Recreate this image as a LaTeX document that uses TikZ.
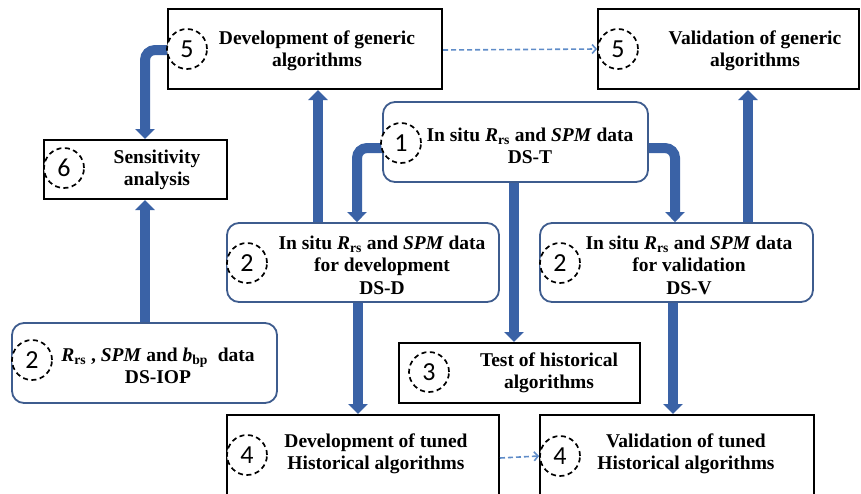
\documentclass[tikz,border=0pt]{standalone}
\usepackage{fontspec}
\setmainfont{Liberation Serif}
\newfontfamily\numfont{Carlito}
\usetikzlibrary{arrows.meta,backgrounds}

\definecolor{flowblue}{RGB}{58,98,166}
\definecolor{edgeblue}{RGB}{62,92,142}
\definecolor{dashblue}{RGB}{95,140,200}

\tikzset{
  sqbox/.style={draw=black, line width=2pt, fill=white, inner sep=0pt},
  rbox/.style={draw=edgeblue, line width=1.8pt, rounded corners=12pt, fill=white, inner sep=0pt},
  num/.style={circle, draw=black, dash pattern=on 5pt off 3.5pt, line width=1.7pt,
    minimum size=40pt, inner sep=0pt, fill=white, font=\numfont\fontsize{26}{26}\selectfont},
  boxtext/.style={align=center, inner sep=0pt, font=\fontsize{19.5}{22.5}\selectfont\bfseries},
  flow/.style={draw=flowblue, line width=10pt, -{Triangle[width=19pt,length=10pt]}},
  dflow/.style={draw=dashblue, line width=1.6pt, dash pattern=on 5pt off 3pt,
    -{Straight Barb[length=4pt,width=9pt]}},
}

\begin{document}
\begin{tikzpicture}[x=1pt,y=-1pt]
\useasboundingbox (0,0) rectangle (861,493);
\clip (0,0) rectangle (861,493);

% boxes
\node[sqbox, minimum width=274pt, minimum height=80pt] (devgen) at (305,49) {};
\node[sqbox, minimum width=261pt, minimum height=80pt] (valgen) at (728.5,49) {};
\node[sqbox, minimum width=183pt, minimum height=59pt] (sens) at (135.5,169.5) {};
\node[rbox, minimum width=265pt, minimum height=80pt] (dst) at (515.5,142) {};
\node[rbox, minimum width=272pt, minimum height=79pt] (dsd) at (363,262.5) {};
\node[rbox, minimum width=273pt, minimum height=79pt] (dsv) at (676.5,262.5) {};
\node[rbox, minimum width=265pt, minimum height=80pt] (iop) at (144.5,363) {};
\node[sqbox, minimum width=241pt, minimum height=60pt] (test) at (519.5,373) {};
\node[sqbox, minimum width=272pt, minimum height=92pt] (devtun) at (363,461) {};
\node[sqbox, minimum width=274pt, minimum height=92pt] (valtun) at (677,461) {};

% box texts
\node[boxtext] (devgen-t) at (317,51) {Development of generic\\algorithms};
\node[boxtext] (valgen-t) at (755,51) {Validation of generic\\algorithms};
\node[boxtext] (sens-t) at (157,170) {Sensitivity\\analysis};
\node[boxtext] (dst-t) at (530,146) {In situ \textit{R}\textsubscript{rs} and \textit{SPM} data\\DS-T};
\node[boxtext] (dsd-t) at (382,265) {In situ \textit{R}\textsubscript{rs} and \textit{SPM} data\\for development\\DS-D};
\node[boxtext] (dsv-t) at (689,265) {In situ \textit{R}\textsubscript{rs} and \textit{SPM} data\\for validation\\DS-V};
\node[boxtext] (iop-t) at (158,366) {\textit{R}\textsubscript{rs} , \textit{SPM} and \textit{b}\textsubscript{bp}~ data\\DS-IOP};
\node[boxtext] (test-t) at (549,373) {Test of historical\\algorithms};
\node[boxtext] (devtun-t) at (376,454) {Development of tuned\\Historical algorithms};
\node[boxtext] (valtun-t) at (686,454) {Validation of tuned\\Historical algorithms};

% step numbers
\node[num] (n5a) at (187,49) {5};
\node[num] (n5b) at (618,49) {5};
\node[num] (n6) at (64,168) {6};
\node[num] (n1) at (401,143) {1};
\node[num] (n2d) at (247,263) {2};
\node[num] (n2v) at (560,263) {2};
\node[num] (n2i) at (32,360) {2};
\node[num] (n3) at (429,372) {3};
\node[num] (n4a) at (247,455) {4};
\node[num] (n4b) at (560,456) {4};

% guide coordinates for connector positions
\coordinate (x145) at (145,0);
\coordinate (x318) at (318,0);
\coordinate (x357) at (357,0);
\coordinate (x358) at (358,0);
\coordinate (x514) at (514,0);
\coordinate (x673) at (673,0);
\coordinate (x675) at (675,0);
\coordinate (x748) at (748,0);
\coordinate (y50) at (0,50);
\coordinate (y148) at (0,148);
\coordinate (y458) at (0,458);

\begin{scope}[on background layer]
  \draw[flow, rounded corners=10pt] (devgen.west |- y50) -| (x145 |- sens.north);
  \draw[flow] (x145 |- iop.north) -- (x145 |- sens.south);
  \draw[flow] (x318 |- dsd.north) -- (x318 |- devgen.south);
  \draw[flow, rounded corners=10pt] (dst.west |- y148) -| (x357 |- dsd.north);
  \draw[flow, rounded corners=10pt] (dst.east |- y148) -| (x675 |- dsv.north);
  \draw[flow] (x748 |- dsv.north) -- (x748 |- valgen.south);
  \draw[flow] (x514 |- dst.south) -- (x514 |- test.north);
  \draw[flow] (x358 |- dsd.south) -- (x358 |- devtun.north);
  \draw[flow] (x673 |- dsv.south) -- (x673 |- valtun.north);
\end{scope}

\draw[dflow] (devgen.east |- y50) -- (n5b.west);
\draw[dflow] (devtun.east |- y458) -- (n4b.west);
\end{tikzpicture}
\end{document}
